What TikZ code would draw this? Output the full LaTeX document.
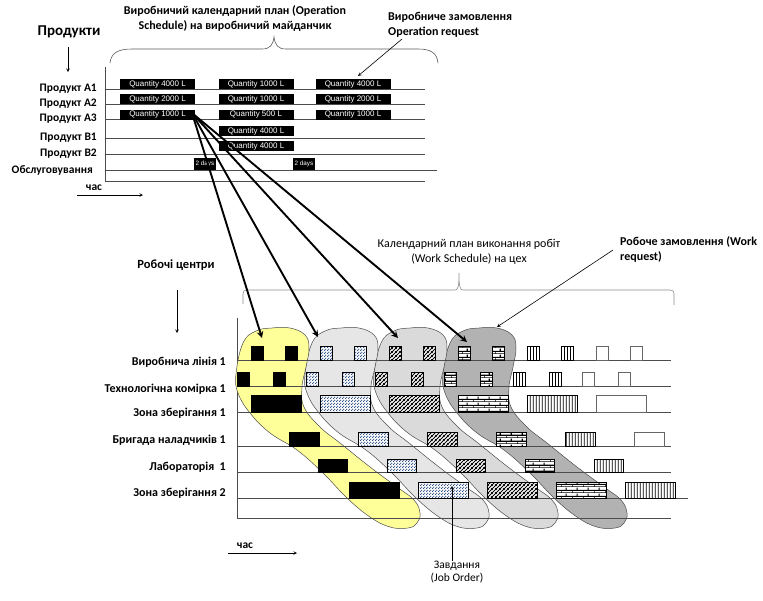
\documentclass[tikz,border=0pt]{standalone}
\usepackage{fontspec}
\setmainfont{Carlito}
\setsansfont{Liberation Sans}
\usetikzlibrary{patterns,patterns.meta}

\definecolor{blobA}{HTML}{FFFF99}
\definecolor{blobB}{HTML}{E6E6E6}
\definecolor{blobC}{HTML}{DADADA}
\definecolor{blobD}{HTML}{B2B2B2}
\definecolor{dotblue}{HTML}{1A3F78}

% patterns of the job boxes
\tikzdeclarepattern{name=thickhatch, type=uncolored,
  bottom left={(0pt,0pt)}, top right={(4pt,4pt)}, tile size={(4pt,4pt)},
  code={\draw[line width=1.1pt] (-1pt,-1pt) -- (5pt,5pt);
        \draw[line width=1.1pt] (-1pt,3pt) -- (1pt,5pt);
        \draw[line width=1.1pt] (3pt,-1pt) -- (5pt,1pt);}}
\tikzdeclarepattern{name=bluedots, type=uncolored,
  bottom left={(0pt,0pt)}, top right={(3pt,3pt)}, tile size={(3pt,3pt)},
  code={\fill (0.75pt,0.75pt) circle (0.85pt);
        \fill (2.25pt,2.25pt) circle (0.85pt);}}
\tikzdeclarepattern{name=brickwall, type=uncolored,
  bottom left={(0pt,0pt)}, top right={(11pt,6pt)}, tile size={(11pt,6pt)},
  code={\draw[line width=1.2pt] (-1pt,0pt) -- (12pt,0pt);
        \draw[line width=1.2pt] (-1pt,3pt) -- (12pt,3pt);
        \draw[line width=1.2pt] (0pt,0pt) -- (0pt,3pt);
        \draw[line width=1.2pt] (5.5pt,3pt) -- (5.5pt,6pt);}}
\tikzdeclarepattern{name=vbars, type=uncolored,
  bottom left={(0pt,0pt)}, top right={(2.8pt,2.8pt)}, tile size={(2.8pt,2.8pt)},
  code={\draw[line width=.8pt] (1.4pt,-1pt) -- (1.4pt,3.8pt);}}

\tikzset{
  lbl/.style={font=\bfseries\fontsize{11.5}{13}\selectfont, anchor=east, inner sep=0pt},
  lblbig/.style={font=\bfseries\fontsize{15}{18}\selectfont, inner sep=0pt},
  hdr/.style={font=\bfseries\fontsize{12}{15}\selectfont, inner sep=0pt},
  hdrreg/.style={font=\fontsize{12}{15}\selectfont, inner sep=0pt},
  qty/.style={fill=black, text=white, font=\sffamily\fontsize{8}{9}\selectfont,
    minimum width=75, minimum height=10, inner sep=0pt},
  days/.style={fill=black, text=white, font=\sffamily\fontsize{6.3}{7}\selectfont,
    minimum width=22, minimum height=12, inner sep=0pt},
  rowline/.style={draw=black!70, line width=.6pt},
  thinarr/.style={-stealth, line width=.6pt},
  bigarr/.style={-stealth, line width=1.9pt},
  brc/.style={draw=black!65, line width=.6pt},
  blob/.style={draw=black!70, line width=.5pt},
  jobbox/.style={draw=black, line width=.6pt},
  jobA/.style={jobbox, fill=black},
  jobB/.style={jobbox, preaction={fill=white}, pattern=bluedots, pattern color=dotblue},
  jobC/.style={jobbox, preaction={fill=white}, pattern=thickhatch},
  jobD/.style={jobbox, preaction={fill=white}, pattern=brickwall},
  jobE/.style={jobbox, preaction={fill=white}, pattern=vbars},
  jobF/.style={draw=black!60, fill=white, line width=.6pt}
}

\begin{document}
\begin{tikzpicture}[x=1pt,y=-1pt]
\useasboundingbox (0,0) rectangle (763,600);
%
% operation schedule (top)
\node[lblbig] (prod) at (69,32) {Продукти};
\coordinate (prodtop) at (68,47);
\coordinate (prodbot) at (68,72);
\draw[thinarr] (prodtop) -- (prodbot);
\node[hdr,align=center] (opsched) at (235,19) {Виробничий календарний план (Operation\\Schedule) на виробничий майданчик};
\node[hdr,align=left,anchor=west] (opreq) at (388,25) {Виробниче замовлення\\Operation request};
\draw[brc] (110,63) .. controls (111,53) and (118,49) .. (132,49) -- (262,49)
  .. controls (270,49) and (273,45) .. (274,37) .. controls (275,45) and (278,49) .. (286,49)
  -- (418,49) .. controls (431,49) and (437,53) .. (438,63);
%
\draw[rowline] (105,67) -- (105,181);
\foreach \yy/\txt [count=\i] in {89/Продукт A1,104/Продукт A2,119/Продукт A3,138/Продукт B1,154/Продукт B2}
{
  \draw[rowline] (105,\yy) -- (425,\yy);
  \node[lbl] (prodrow\i) at (97,\yy) {\txt};
}
\draw[rowline] (105,170) -- (437,170);
\node[lbl] (service) at (93,170) {Обслуговування};
\draw[rowline] (105,181) -- (425,181);
%
\foreach \yy/\qa/\qb/\qc [count=\rw] in {84/4000/1000/4000,99/2000/1000/2000,114.5/1000/500/1000}
{
  \node[qty] (q\rw a) at (157.5,\yy) {Quantity \qa\ L};
  \node[qty] (q\rw b) at (256,\yy) {Quantity \qb\ L};
  \node[qty] (q\rw c) at (353,\yy) {Quantity \qc\ L};
}
\node[qty] (q4b) at (256,131) {Quantity 4000 L};
\node[qty] (q5b) at (256,146) {Quantity 4000 L};
\node[days] (d1) at (205,164) {2 days};
\node[days] (d2) at (304,164) {2 days};
%
\coordinate (opreqfrom) at (402,39);
\coordinate (opreqto) at (358,76);
\draw[thinarr] (opreqfrom) -- (opreqto);
%
\node[lbl,anchor=center] (time1) at (94,188) {час};
\coordinate (time1a) at (77,195);
\coordinate (time1b) at (143,195);
\draw[thinarr] (time1a) -- (time1b);
%
% work schedule (bottom)
\node[lblbig,font=\bfseries\fontsize{12.5}{14}\selectfont] (wc) at (176,265) {Робочі центри};
\coordinate (wctop) at (177,290);
\coordinate (wcbot) at (177,333);
\draw[thinarr] (wctop) -- (wcbot);
\node[hdrreg,align=center] (wsched) at (469,252) {Календарний план виконання робіт\\(Work Schedule) на цех};
\node[hdr,align=left,anchor=west] (wreq) at (620,249) {Робоче замовлення (Work\\request)};
\draw[brc,draw=black!45] (243,304) -- (243,294) .. controls (243,291) and (244,290) .. (247,290)
  -- (455,290) .. controls (458,290) and (459,287) .. (459,273)
  .. controls (459,287) and (460,290) .. (463,290) -- (670,290)
  .. controls (673,290) and (674,291) .. (674,294) -- (674,305);
%
\draw[rowline] (237,318) -- (237,518);
\foreach \k/\col in {3/blobD,2/blobC,1/blobB,0/blobA}
  \draw[blob,fill=\col,shift={(69*\k,0)}] plot[smooth cycle,tension=.7] coordinates {
    (236,374) (243,343) (256,331) (272,328) (290,328) (305,335) (309,348)
    (306,367) (302,387) (304,407) (320,427) (340,443) (370,467) (397,487)
    (414,500) (420,513) (417,523) (408,528) (390,527) (370,517) (347,498)
    (323,473) (297,450) (270,433) (250,413) (238,393)};
%
\foreach \yy/\ly/\txt [count=\i] in {360/362/Виробнича лінія 1,386/389/Технологічна комірка 1,412/413/Зона зберігання 1,446/440/Бригада наладчиків 1,472/467/Лабораторія~ 1,498/493/Зона зберігання 2}
{
  \draw[rowline] (237,\yy) -- (671,\yy);
  \node[lbl,font=\bfseries\fontsize{12}{13}\selectfont] (wcrow\i) at (226,\ly) {\txt};
}
\draw[rowline] (671,498) -- (688,498);
\draw[rowline] (237,518) -- (671,518);
%
\foreach \k/\sty in {0/jobA,1/jobB,2/jobC,3/jobD,4/jobE,5/jobF}
{
  \begin{scope}[shift={(69*\k,0)}]
    \draw[\sty] (251,360) rectangle ++(12,-14);
    \draw[\sty] (285,360) rectangle ++(12,-14);
    \draw[\sty] (237,386) rectangle ++(12,-14);
    \draw[\sty] (273,386) rectangle ++(12,-14);
    \draw[\sty] (251,412) rectangle ++(50,-17);
    \draw[\sty] (289,446) rectangle ++(30,-14);
    \ifnum\k<5
      \draw[\sty] (318,472) rectangle ++(29,-13);
      \draw[\sty] (349,498) rectangle ++(50,-16);
    \fi
  \end{scope}
}
%
\coordinate (src) at (192,113);
\foreach \tx/\ty [count=\i] in {262/338,318/337,398/338,467/342}
{
  \coordinate (tgt\i) at (\tx,\ty);
  \draw[bigarr] (src) -- (tgt\i);
}
\coordinate (wreqfrom) at (613,250);
\coordinate (wreqto) at (497,327);
\draw[thinarr] (wreqfrom) -- (wreqto);
%
\node[hdrreg,align=center,font=\fontsize{11.5}{13}\selectfont] (joborder) at (457,572) {Завдання\\(Job Order)};
\coordinate (jobtip) at (452,486);
\draw[thinarr] (joborder.north -| jobtip) -- (jobtip);
%
\node[lbl,anchor=center] (time2) at (245,546) {час};
\coordinate (time2a) at (228,553);
\coordinate (time2b) at (297,553);
\draw[thinarr] (time2a) -- (time2b);
\end{tikzpicture}
\end{document}
